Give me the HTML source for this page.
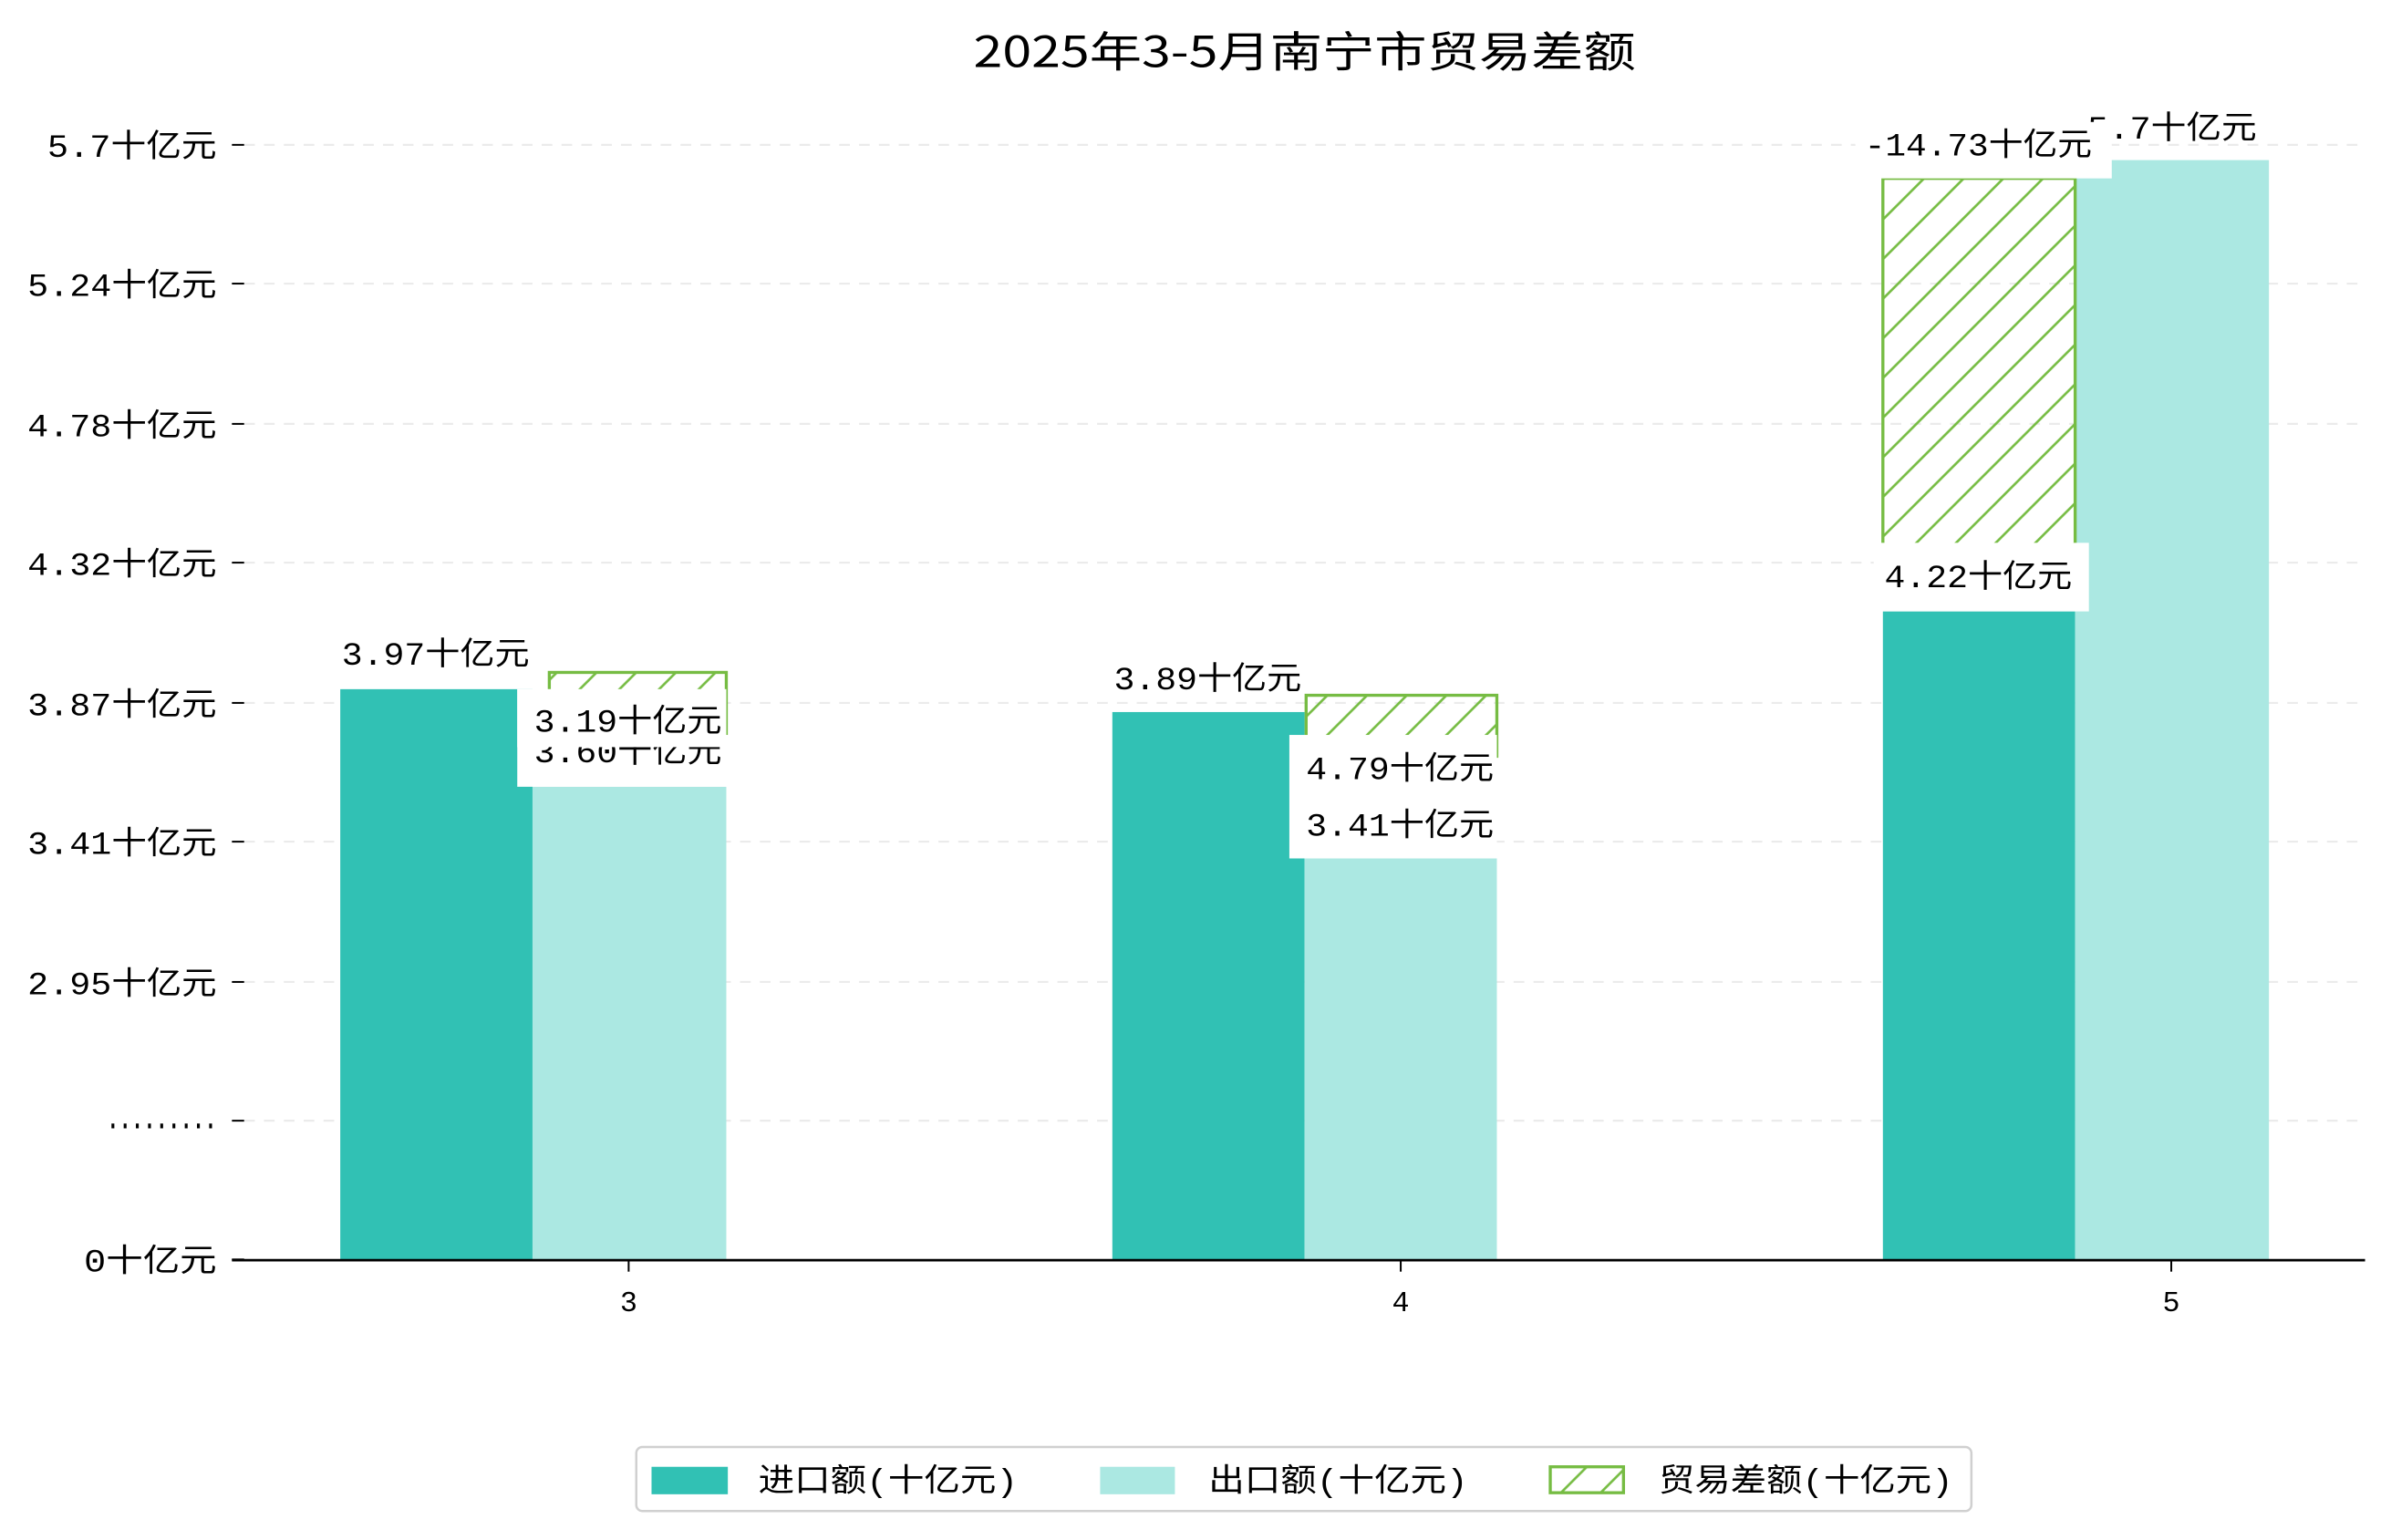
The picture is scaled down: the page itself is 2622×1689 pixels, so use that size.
<!DOCTYPE html>
<html><head><meta charset="utf-8"><style>html,body{margin:0;padding:0;background:#fff;}svg{display:block}</style></head><body>
<svg width="2622" height="1689" viewBox="0 0 1567 1010" preserveAspectRatio="none" xmlns="http://www.w3.org/2000/svg" font-family="'Liberation Mono','Noto Sans CJK SC',monospace">
<defs>
<pattern id="h" patternUnits="userSpaceOnUse" width="26" height="26">
<path d="M-2,28 L28,-2 M-15,15 L15,-15 M11,41 L41,11" stroke="#76bc43" stroke-width="1.6"/>
</pattern>
</defs>
<rect width="1567" height="1010" fill="#fff"/>
<text x="638" y="44" font-size="28" textLength="434" lengthAdjust="spacingAndGlyphs" fill="#000" font-family="'Noto Sans CJK SC',sans-serif">2025年3-5月南宁市贸易差额</text>
<g stroke="#ebebeb" stroke-width="1.3" stroke-dasharray="7,6">
<line x1="160" y1="95" x2="1550" y2="95"/><line x1="160" y1="186" x2="1550" y2="186"/><line x1="160" y1="278" x2="1550" y2="278"/><line x1="160" y1="369" x2="1550" y2="369"/><line x1="160" y1="461" x2="1550" y2="461"/><line x1="160" y1="552" x2="1550" y2="552"/><line x1="160" y1="644" x2="1550" y2="644"/><line x1="160" y1="735" x2="1550" y2="735"/>
</g>
<g stroke="#000" stroke-width="1.2">
<line x1="152" y1="95" x2="160" y2="95"/><line x1="152" y1="186" x2="160" y2="186"/><line x1="152" y1="278" x2="160" y2="278"/><line x1="152" y1="369" x2="160" y2="369"/><line x1="152" y1="461" x2="160" y2="461"/><line x1="152" y1="552" x2="160" y2="552"/><line x1="152" y1="644" x2="160" y2="644"/><line x1="152" y1="735" x2="160" y2="735"/><line x1="152" y1="826" x2="160" y2="826"/>
<line x1="412" y1="826" x2="412" y2="834"/><line x1="918" y1="826" x2="918" y2="834"/><line x1="1423" y1="826" x2="1423" y2="834"/>
</g>
<g font-size="21" fill="#000">
<text x="31" y="103" textLength="111" lengthAdjust="spacingAndGlyphs">5.7十亿元</text>
<text x="18" y="194" textLength="124" lengthAdjust="spacingAndGlyphs">5.24十亿元</text>
<text x="18" y="286" textLength="124" lengthAdjust="spacingAndGlyphs">4.78十亿元</text>
<text x="18" y="377" textLength="124" lengthAdjust="spacingAndGlyphs">4.32十亿元</text>
<text x="18" y="469" textLength="124" lengthAdjust="spacingAndGlyphs">3.87十亿元</text>
<text x="18" y="560" textLength="124" lengthAdjust="spacingAndGlyphs">3.41十亿元</text>
<text x="18" y="652" textLength="124" lengthAdjust="spacingAndGlyphs">2.95十亿元</text>
<text x="70" y="740" textLength="72" lengthAdjust="spacingAndGlyphs" font-weight="bold">.........</text>
<text x="55" y="834" textLength="87" lengthAdjust="spacingAndGlyphs">0十亿元</text>
</g>
<rect x="223" y="452" width="126" height="374" fill="#31c1b4"/>
<rect x="349" y="516" width="127" height="310" fill="#abe8e2"/>
<rect x="360" y="441" width="116" height="40" fill="url(#h)" stroke="#76bc43" stroke-width="2"/>
<rect x="729" y="467" width="126" height="359" fill="#31c1b4"/>
<rect x="855" y="563" width="126" height="263" fill="#abe8e2"/>
<rect x="856" y="456" width="125" height="40" fill="url(#h)" stroke="#76bc43" stroke-width="2"/>
<rect x="1234" y="401" width="126" height="425" fill="#31c1b4"/>
<rect x="1360" y="105" width="127" height="721" fill="#abe8e2"/>
<rect x="1234" y="117" width="126" height="250" fill="url(#h)" stroke="#76bc43" stroke-width="2"/>
<g font-size="21" fill="#000">
<text x="224" y="436" textLength="123" lengthAdjust="spacingAndGlyphs">3.97十亿元</text>
<rect x="339" y="452" width="137" height="64" fill="#fff"/>
<text x="350" y="500" textLength="123" lengthAdjust="spacingAndGlyphs">3.60十亿元</text>
<rect x="339" y="452" width="137" height="38" fill="#fff"/>
<text x="350" y="480" textLength="123" lengthAdjust="spacingAndGlyphs">3.19十亿元</text>
<text x="730" y="452" textLength="123" lengthAdjust="spacingAndGlyphs">3.89十亿元</text>
<rect x="845" y="482" width="136" height="81" fill="#fff"/>
<text x="856" y="511" textLength="123" lengthAdjust="spacingAndGlyphs">4.79十亿元</text>
<text x="856" y="548" textLength="123" lengthAdjust="spacingAndGlyphs">3.41十亿元</text>
<rect x="1228" y="356" width="141" height="45" fill="#fff"/>
<text x="1235" y="385" textLength="123" lengthAdjust="spacingAndGlyphs">4.22十亿元</text>
<text x="1368" y="91" textLength="111" lengthAdjust="spacingAndGlyphs">5.7十亿元</text>
<rect x="1216" y="80" width="168" height="37" fill="#fff"/>
<text x="1222" y="102" textLength="149" lengthAdjust="spacingAndGlyphs">-14.73十亿元</text>
</g>
<line x1="152" y1="826.5" x2="1550" y2="826.5" stroke="#000" stroke-width="1.6"/>
<g font-size="19" text-anchor="middle"><text x="412" y="860">3</text><text x="918" y="860">4</text><text x="1423" y="860">5</text></g>
<rect x="417" y="949" width="875" height="42" rx="4" fill="#fff" stroke="#d0d0d0" stroke-width="1.5"/>
<rect x="427" y="962" width="50" height="18" fill="#31c1b4"/>
<rect x="721" y="962" width="49" height="18" fill="#abe8e2"/>
<rect x="1016" y="962" width="48" height="17" fill="url(#h)" stroke="#76bc43" stroke-width="2"/>
<g font-size="21">
<text x="497" y="978" textLength="170" lengthAdjust="spacingAndGlyphs">进口额(十亿元)</text>
<text x="792" y="978" textLength="170" lengthAdjust="spacingAndGlyphs">出口额(十亿元)</text>
<text x="1087" y="978" textLength="193" lengthAdjust="spacingAndGlyphs">贸易差额(十亿元)</text>
</g>
</svg>
</body></html>
